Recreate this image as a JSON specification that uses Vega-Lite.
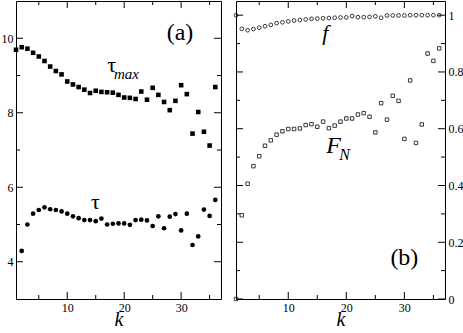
{
  "$schema": "https://vega.github.io/schema/vega-lite/v6.json",
  "padding": {"left": 1, "top": 1, "right": 1, "bottom": 0},
  "background": "white",
  "config": {
    "view": {"stroke": null},
    "font": "Liberation Serif",
    "tick": {"thickness": 1, "color": "black", "opacity": 1},
    "axis": {
      "grid": false,
      "domainColor": "black",
      "domainWidth": 1,
      "labelColor": "black",
      "labelFont": "Liberation Serif",
      "labelFontSize": 12,
      "titleFont": "Liberation Serif",
      "titleFontStyle": "italic",
      "titleFontWeight": "normal",
      "titleFontSize": 20,
      "titleColor": "black"
    }
  },
  "datasets": {
    "left": [
      {"k": 1, "s": "tau_max", "v": 9.69}, {"k": 2, "s": "tau_max", "v": 9.76}, {"k": 3, "s": "tau_max", "v": 9.72}, {"k": 4, "s": "tau_max", "v": 9.61},
      {"k": 5, "s": "tau_max", "v": 9.51}, {"k": 6, "s": "tau_max", "v": 9.39}, {"k": 7, "s": "tau_max", "v": 9.24}, {"k": 8, "s": "tau_max", "v": 9.12},
      {"k": 9, "s": "tau_max", "v": 9.03}, {"k": 10, "s": "tau_max", "v": 8.84}, {"k": 11, "s": "tau_max", "v": 8.76}, {"k": 12, "s": "tau_max", "v": 8.69},
      {"k": 13, "s": "tau_max", "v": 8.62}, {"k": 14, "s": "tau_max", "v": 8.53}, {"k": 15, "s": "tau_max", "v": 8.59}, {"k": 16, "s": "tau_max", "v": 8.56},
      {"k": 17, "s": "tau_max", "v": 8.55}, {"k": 18, "s": "tau_max", "v": 8.54}, {"k": 19, "s": "tau_max", "v": 8.48}, {"k": 20, "s": "tau_max", "v": 8.41},
      {"k": 21, "s": "tau_max", "v": 8.40}, {"k": 22, "s": "tau_max", "v": 8.37}, {"k": 23, "s": "tau_max", "v": 8.57}, {"k": 24, "s": "tau_max", "v": 8.35},
      {"k": 25, "s": "tau_max", "v": 8.67}, {"k": 26, "s": "tau_max", "v": 8.48}, {"k": 27, "s": "tau_max", "v": 8.29}, {"k": 28, "s": "tau_max", "v": 8.07},
      {"k": 29, "s": "tau_max", "v": 8.32}, {"k": 30, "s": "tau_max", "v": 8.74}, {"k": 31, "s": "tau_max", "v": 8.50}, {"k": 32, "s": "tau_max", "v": 7.44},
      {"k": 33, "s": "tau_max", "v": 8.02}, {"k": 34, "s": "tau_max", "v": 7.49}, {"k": 35, "s": "tau_max", "v": 7.12}, {"k": 36, "s": "tau_max", "v": 8.69},
      {"k": 2, "s": "tau", "v": 4.29}, {"k": 3, "s": "tau", "v": 5.00}, {"k": 4, "s": "tau", "v": 5.29}, {"k": 5, "s": "tau", "v": 5.39},
      {"k": 6, "s": "tau", "v": 5.46}, {"k": 7, "s": "tau", "v": 5.41}, {"k": 8, "s": "tau", "v": 5.39}, {"k": 9, "s": "tau", "v": 5.35},
      {"k": 10, "s": "tau", "v": 5.29}, {"k": 11, "s": "tau", "v": 5.22}, {"k": 12, "s": "tau", "v": 5.17}, {"k": 13, "s": "tau", "v": 5.12},
      {"k": 14, "s": "tau", "v": 5.12}, {"k": 15, "s": "tau", "v": 5.09}, {"k": 16, "s": "tau", "v": 5.16}, {"k": 17, "s": "tau", "v": 5.00},
      {"k": 18, "s": "tau", "v": 5.02}, {"k": 19, "s": "tau", "v": 5.03}, {"k": 20, "s": "tau", "v": 5.03}, {"k": 21, "s": "tau", "v": 4.99},
      {"k": 22, "s": "tau", "v": 5.12}, {"k": 23, "s": "tau", "v": 5.13}, {"k": 24, "s": "tau", "v": 5.11}, {"k": 25, "s": "tau", "v": 4.96},
      {"k": 26, "s": "tau", "v": 5.22}, {"k": 27, "s": "tau", "v": 4.90}, {"k": 28, "s": "tau", "v": 5.21}, {"k": 29, "s": "tau", "v": 5.28},
      {"k": 30, "s": "tau", "v": 4.84}, {"k": 31, "s": "tau", "v": 5.29}, {"k": 32, "s": "tau", "v": 4.45}, {"k": 33, "s": "tau", "v": 4.68},
      {"k": 34, "s": "tau", "v": 5.40}, {"k": 35, "s": "tau", "v": 5.23}, {"k": 36, "s": "tau", "v": 5.66}
    ],
    "right": [
      {"k": 1, "s": "f", "v": 1.0}, {"k": 2, "s": "f", "v": 0.952}, {"k": 3, "s": "f", "v": 0.947}, {"k": 4, "s": "f", "v": 0.951},
      {"k": 5, "s": "f", "v": 0.956}, {"k": 6, "s": "f", "v": 0.961}, {"k": 7, "s": "f", "v": 0.966}, {"k": 8, "s": "f", "v": 0.972},
      {"k": 9, "s": "f", "v": 0.975}, {"k": 10, "s": "f", "v": 0.978}, {"k": 11, "s": "f", "v": 0.981}, {"k": 12, "s": "f", "v": 0.983},
      {"k": 13, "s": "f", "v": 0.985}, {"k": 14, "s": "f", "v": 0.987}, {"k": 15, "s": "f", "v": 0.988}, {"k": 16, "s": "f", "v": 0.989},
      {"k": 17, "s": "f", "v": 0.990}, {"k": 18, "s": "f", "v": 0.991}, {"k": 19, "s": "f", "v": 0.992}, {"k": 20, "s": "f", "v": 0.992},
      {"k": 21, "s": "f", "v": 0.997}, {"k": 22, "s": "f", "v": 0.993}, {"k": 23, "s": "f", "v": 0.993}, {"k": 24, "s": "f", "v": 0.994},
      {"k": 25, "s": "f", "v": 0.996}, {"k": 26, "s": "f", "v": 0.991}, {"k": 27, "s": "f", "v": 0.999}, {"k": 28, "s": "f", "v": 0.999},
      {"k": 29, "s": "f", "v": 0.999}, {"k": 30, "s": "f", "v": 0.999}, {"k": 31, "s": "f", "v": 1.0}, {"k": 32, "s": "f", "v": 1.0},
      {"k": 33, "s": "f", "v": 1.0}, {"k": 34, "s": "f", "v": 1.0}, {"k": 35, "s": "f", "v": 1.0}, {"k": 36, "s": "f", "v": 1.0},
      {"k": 1, "s": "FN", "v": 0.0}, {"k": 2, "s": "FN", "v": 0.295}, {"k": 3, "s": "FN", "v": 0.406}, {"k": 4, "s": "FN", "v": 0.468},
      {"k": 5, "s": "FN", "v": 0.503}, {"k": 6, "s": "FN", "v": 0.540}, {"k": 7, "s": "FN", "v": 0.559}, {"k": 8, "s": "FN", "v": 0.579},
      {"k": 9, "s": "FN", "v": 0.591}, {"k": 10, "s": "FN", "v": 0.599}, {"k": 11, "s": "FN", "v": 0.599}, {"k": 12, "s": "FN", "v": 0.601},
      {"k": 13, "s": "FN", "v": 0.613}, {"k": 14, "s": "FN", "v": 0.616}, {"k": 15, "s": "FN", "v": 0.607}, {"k": 16, "s": "FN", "v": 0.625},
      {"k": 17, "s": "FN", "v": 0.602}, {"k": 18, "s": "FN", "v": 0.611}, {"k": 19, "s": "FN", "v": 0.625}, {"k": 20, "s": "FN", "v": 0.636},
      {"k": 21, "s": "FN", "v": 0.636}, {"k": 22, "s": "FN", "v": 0.650}, {"k": 23, "s": "FN", "v": 0.655}, {"k": 24, "s": "FN", "v": 0.642},
      {"k": 25, "s": "FN", "v": 0.587}, {"k": 26, "s": "FN", "v": 0.690}, {"k": 27, "s": "FN", "v": 0.632}, {"k": 28, "s": "FN", "v": 0.716},
      {"k": 29, "s": "FN", "v": 0.698}, {"k": 30, "s": "FN", "v": 0.564}, {"k": 31, "s": "FN", "v": 0.770}, {"k": 32, "s": "FN", "v": 0.550},
      {"k": 33, "s": "FN", "v": 0.615}, {"k": 34, "s": "FN", "v": 0.865}, {"k": 35, "s": "FN", "v": 0.839}, {"k": 36, "s": "FN", "v": 0.883}
    ],
    "kt": [{"t": 5}, {"t": 10}, {"t": 15}, {"t": 20}, {"t": 25}, {"t": 30}, {"t": 35}],
    "ylt": [{"t": 4}, {"t": 5}, {"t": 6}, {"t": 7}, {"t": 8}, {"t": 9}, {"t": 10}],
    "yrt": [{"t": 0, "m": 1}, {"t": 0.1, "m": 0}, {"t": 0.2, "m": 1}, {"t": 0.3, "m": 0}, {"t": 0.4, "m": 1}, {"t": 0.5, "m": 0}, {"t": 0.6, "m": 1}, {"t": 0.7, "m": 0}, {"t": 0.8, "m": 1}, {"t": 0.9, "m": 0}, {"t": 1, "m": 1}],
    "one": [{"n": 1}]
  },
  "spacing": 11,
  "hconcat": [
    {
      "width": 205,
      "height": 298,
      "layer": [
        {
          "data": {"name": "left"},
          "transform": [{"filter": "datum.s === 'tau_max'"}],
          "mark": {"type": "point", "shape": "square", "filled": true, "color": "black", "opacity": 1, "size": 21},
          "encoding": {
            "x": {"field": "k", "type": "quantitative", "scale": {"domain": [1, 37], "nice": false, "zero": false},
              "axis": {"orient": "bottom", "values": [10, 20, 30], "ticks": false, "labelPadding": 3, "labelFlush": false, "title": "k", "titlePadding": -4}},
            "y": {"field": "v", "type": "quantitative", "scale": {"domain": [3, 11], "nice": false, "zero": false},
              "axis": {"orient": "left", "values": [4, 6, 8, 10], "ticks": false, "labelPadding": 3, "title": null}}
          }
        },
        {
          "data": {"name": "left"},
          "transform": [{"filter": "datum.s === 'tau'"}],
          "mark": {"type": "point", "shape": "circle", "filled": true, "color": "black", "opacity": 1, "size": 22},
          "encoding": {
            "x": {"field": "k", "type": "quantitative",
              "axis": {"orient": "top", "values": [10, 20, 30], "labels": false, "ticks": false, "title": null}},
            "y": {"field": "v", "type": "quantitative",
              "axis": {"orient": "right", "values": [4, 6, 8, 10], "labels": false, "ticks": false, "title": null}}
          }
        },
        {
          "data": {"name": "kt"}, "transform": [{"filter": "datum.t % 10 === 0"}],
          "mark": {"type": "tick", "orient": "vertical", "size": 7, "yOffset": -3.5},
          "encoding": {"x": {"field": "t", "type": "quantitative", "axis": null}, "y": {"datum": 3, "type": "quantitative", "axis": null}}
        },
        {
          "data": {"name": "kt"}, "transform": [{"filter": "datum.t % 10 !== 0"}],
          "mark": {"type": "tick", "orient": "vertical", "size": 4, "yOffset": -2},
          "encoding": {"x": {"field": "t", "type": "quantitative", "axis": null}, "y": {"datum": 3, "type": "quantitative", "axis": null}}
        },
        {
          "data": {"name": "kt"}, "transform": [{"filter": "datum.t % 10 === 0"}],
          "mark": {"type": "tick", "orient": "vertical", "size": 7, "yOffset": 3.5},
          "encoding": {"x": {"field": "t", "type": "quantitative", "axis": null}, "y": {"datum": 11, "type": "quantitative", "axis": null}}
        },
        {
          "data": {"name": "kt"}, "transform": [{"filter": "datum.t % 10 !== 0"}],
          "mark": {"type": "tick", "orient": "vertical", "size": 4, "yOffset": 2},
          "encoding": {"x": {"field": "t", "type": "quantitative", "axis": null}, "y": {"datum": 11, "type": "quantitative", "axis": null}}
        },
        {
          "data": {"name": "ylt"}, "transform": [{"filter": "datum.t % 2 === 0"}],
          "mark": {"type": "tick", "orient": "horizontal", "size": 7, "xOffset": 3.5},
          "encoding": {"y": {"field": "t", "type": "quantitative", "axis": null}, "x": {"datum": 1, "type": "quantitative", "axis": null}}
        },
        {
          "data": {"name": "ylt"}, "transform": [{"filter": "datum.t % 2 !== 0"}],
          "mark": {"type": "tick", "orient": "horizontal", "size": 4, "xOffset": 2},
          "encoding": {"y": {"field": "t", "type": "quantitative", "axis": null}, "x": {"datum": 1, "type": "quantitative", "axis": null}}
        },
        {
          "data": {"name": "ylt"}, "transform": [{"filter": "datum.t % 2 === 0"}],
          "mark": {"type": "tick", "orient": "horizontal", "size": 7, "xOffset": -3.5},
          "encoding": {"y": {"field": "t", "type": "quantitative", "axis": null}, "x": {"datum": 37, "type": "quantitative", "axis": null}}
        },
        {
          "data": {"name": "ylt"}, "transform": [{"filter": "datum.t % 2 !== 0"}],
          "mark": {"type": "tick", "orient": "horizontal", "size": 4, "xOffset": -2},
          "encoding": {"y": {"field": "t", "type": "quantitative", "axis": null}, "x": {"datum": 37, "type": "quantitative", "axis": null}}
        },
        {
          "data": {"name": "one"},
          "mark": {"type": "text", "text": "(a)", "fontSize": 24, "font": "Liberation Serif", "align": "center", "baseline": "middle", "color": "black"},
          "encoding": {"x": {"datum": 29.8, "type": "quantitative", "axis": null}, "y": {"datum": 10.15, "type": "quantitative", "axis": null}}
        },
        {
          "data": {"name": "one"},
          "mark": {"type": "text", "text": "τ", "fontSize": 22, "font": "Liberation Serif", "align": "center", "baseline": "middle", "color": "black"},
          "encoding": {"x": {"datum": 17.8, "type": "quantitative", "axis": null}, "y": {"datum": 9.29, "type": "quantitative", "axis": null}}
        },
        {
          "data": {"name": "one"},
          "mark": {"type": "text", "text": "max", "fontSize": 15, "fontStyle": "italic", "font": "Liberation Serif", "align": "center", "baseline": "middle", "color": "black"},
          "encoding": {"x": {"datum": 20.4, "type": "quantitative", "axis": null}, "y": {"datum": 9.05, "type": "quantitative", "axis": null}}
        },
        {
          "data": {"name": "one"},
          "mark": {"type": "text", "text": "τ", "fontSize": 22, "font": "Liberation Serif", "align": "center", "baseline": "middle", "color": "black"},
          "encoding": {"x": {"datum": 14.95, "type": "quantitative", "axis": null}, "y": {"datum": 5.6, "type": "quantitative", "axis": null}}
        }
      ],
      "resolve": {"axis": {"x": "independent", "y": "independent"}}
    },
    {
      "width": 209,
      "height": 298,
      "layer": [
        {
          "data": {"name": "right"},
          "transform": [{"filter": "datum.s === 'f'"}],
          "mark": {"type": "point", "shape": "circle", "filled": false, "color": "#222", "strokeWidth": 0.9, "opacity": 1, "size": 14},
          "encoding": {
            "x": {"field": "k", "type": "quantitative", "scale": {"domain": [1, 37], "nice": false, "zero": false},
              "axis": {"orient": "bottom", "values": [10, 20, 30], "ticks": false, "labelPadding": 3, "labelFlush": false, "title": "k", "titlePadding": -4}},
            "y": {"field": "v", "type": "quantitative", "scale": {"domain": [0, 1.05], "nice": false, "zero": false},
              "axis": {"orient": "right", "values": [0, 0.2, 0.4, 0.6, 0.8, 1], "format": "~g", "ticks": false, "labelPadding": 3, "labelFlush": false, "title": null}}
          }
        },
        {
          "data": {"name": "right"},
          "transform": [{"filter": "datum.s === 'FN'"}],
          "mark": {"type": "point", "shape": "square", "filled": false, "color": "#222", "strokeWidth": 0.9, "opacity": 1, "size": 12},
          "encoding": {
            "x": {"field": "k", "type": "quantitative",
              "axis": {"orient": "top", "values": [10, 20, 30], "labels": false, "ticks": false, "title": null}},
            "y": {"field": "v", "type": "quantitative",
              "axis": {"orient": "left", "values": [0, 0.2, 0.4, 0.6, 0.8, 1], "labels": false, "ticks": false, "title": null}}
          }
        },
        {
          "data": {"name": "kt"}, "transform": [{"filter": "datum.t % 10 === 0"}],
          "mark": {"type": "tick", "orient": "vertical", "size": 7, "yOffset": -3.5},
          "encoding": {"x": {"field": "t", "type": "quantitative", "axis": null}, "y": {"datum": 0, "type": "quantitative", "axis": null}}
        },
        {
          "data": {"name": "kt"}, "transform": [{"filter": "datum.t % 10 !== 0"}],
          "mark": {"type": "tick", "orient": "vertical", "size": 4, "yOffset": -2},
          "encoding": {"x": {"field": "t", "type": "quantitative", "axis": null}, "y": {"datum": 0, "type": "quantitative", "axis": null}}
        },
        {
          "data": {"name": "kt"}, "transform": [{"filter": "datum.t % 10 === 0"}],
          "mark": {"type": "tick", "orient": "vertical", "size": 7, "yOffset": 3.5},
          "encoding": {"x": {"field": "t", "type": "quantitative", "axis": null}, "y": {"datum": 1.05, "type": "quantitative", "axis": null}}
        },
        {
          "data": {"name": "kt"}, "transform": [{"filter": "datum.t % 10 !== 0"}],
          "mark": {"type": "tick", "orient": "vertical", "size": 4, "yOffset": 2},
          "encoding": {"x": {"field": "t", "type": "quantitative", "axis": null}, "y": {"datum": 1.05, "type": "quantitative", "axis": null}}
        },
        {
          "data": {"name": "yrt"}, "transform": [{"filter": "datum.m === 1"}],
          "mark": {"type": "tick", "orient": "horizontal", "size": 7, "xOffset": 3.5},
          "encoding": {"y": {"field": "t", "type": "quantitative", "axis": null}, "x": {"datum": 1, "type": "quantitative", "axis": null}}
        },
        {
          "data": {"name": "yrt"}, "transform": [{"filter": "datum.m === 0"}],
          "mark": {"type": "tick", "orient": "horizontal", "size": 4, "xOffset": 2},
          "encoding": {"y": {"field": "t", "type": "quantitative", "axis": null}, "x": {"datum": 1, "type": "quantitative", "axis": null}}
        },
        {
          "data": {"name": "yrt"}, "transform": [{"filter": "datum.m === 1"}],
          "mark": {"type": "tick", "orient": "horizontal", "size": 7, "xOffset": -3.5},
          "encoding": {"y": {"field": "t", "type": "quantitative", "axis": null}, "x": {"datum": 37, "type": "quantitative", "axis": null}}
        },
        {
          "data": {"name": "yrt"}, "transform": [{"filter": "datum.m === 0"}],
          "mark": {"type": "tick", "orient": "horizontal", "size": 4, "xOffset": -2},
          "encoding": {"y": {"field": "t", "type": "quantitative", "axis": null}, "x": {"datum": 37, "type": "quantitative", "axis": null}}
        },
        {
          "data": {"name": "one"},
          "mark": {"type": "text", "text": "(b)", "fontSize": 24, "font": "Liberation Serif", "align": "center", "baseline": "middle", "color": "black"},
          "encoding": {"x": {"datum": 30.0, "type": "quantitative", "axis": null}, "y": {"datum": 0.143, "type": "quantitative", "axis": null}}
        },
        {
          "data": {"name": "one"},
          "mark": {"type": "text", "text": "f", "fontSize": 22, "fontStyle": "italic", "font": "Liberation Serif", "align": "center", "baseline": "middle", "color": "black"},
          "encoding": {"x": {"datum": 16.4, "type": "quantitative", "axis": null}, "y": {"datum": 0.936, "type": "quantitative", "axis": null}}
        },
        {
          "data": {"name": "one"},
          "mark": {"type": "text", "text": "F", "fontSize": 24, "fontStyle": "italic", "font": "Liberation Serif", "align": "center", "baseline": "middle", "color": "black"},
          "encoding": {"x": {"datum": 17.8, "type": "quantitative", "axis": null}, "y": {"datum": 0.54, "type": "quantitative", "axis": null}}
        },
        {
          "data": {"name": "one"},
          "mark": {"type": "text", "text": "N", "fontSize": 16, "fontStyle": "italic", "font": "Liberation Serif", "align": "center", "baseline": "middle", "color": "black"},
          "encoding": {"x": {"datum": 19.7, "type": "quantitative", "axis": null}, "y": {"datum": 0.508, "type": "quantitative", "axis": null}}
        }
      ],
      "resolve": {"axis": {"x": "independent", "y": "independent"}}
    }
  ]
}
